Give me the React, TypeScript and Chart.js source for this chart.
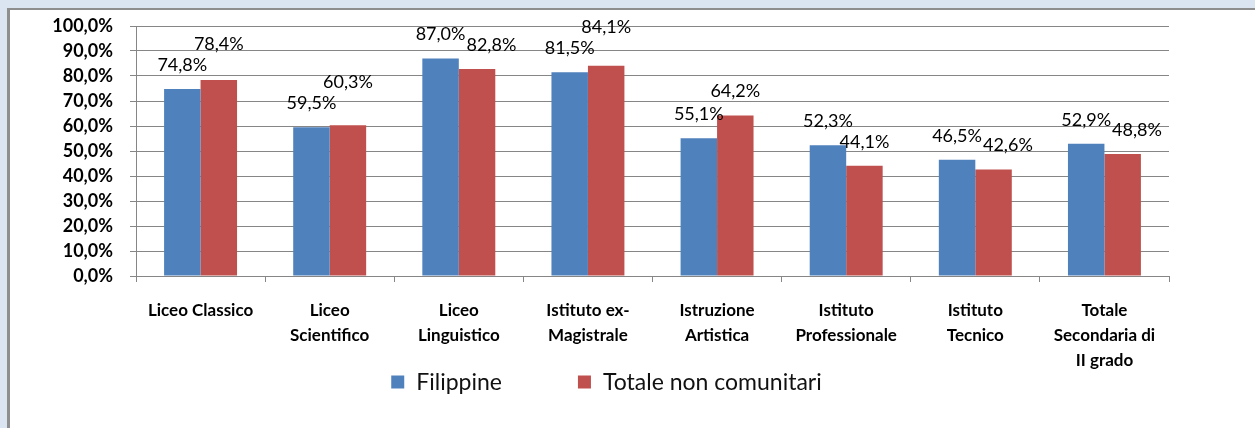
import React, { useEffect, useRef } from "react";
import { Chart, registerables } from "chart.js";

Chart.register(...registerables);

const categories: string[][] = [
  ["Liceo Classico"],
  ["Liceo", "Scientifico"],
  ["Liceo", "Linguistico"],
  ["Istituto ex-", "Magistrale"],
  ["Istruzione", "Artistica"],
  ["Istituto", "Professionale"],
  ["Istituto", "Tecnico"],
  ["Totale", "Secondaria di", "II grado"],
];
const seriesNames = ["Filippine", "Totale non comunitari"];
const filippine = [74.8, 59.5, 87.0, 81.5, 55.1, 52.3, 46.5, 52.9];
const totaleNonComunitari = [78.4, 60.3, 82.8, 84.1, 64.2, 44.1, 42.6, 48.8];
const seriesColors = ["#4f81bd", "#c0504d"];
const yMin = 0;
const yMax = 100;
const yStep = 10;

const FONT = "Lato, 'Open Sans', sans-serif";
const fmt = (v: number) => v.toFixed(1).replace(".", ",") + "%";

const dataLabelsPlugin = {
  id: "dataLabelsCustom",
  afterDatasetsDraw(chart: any) {
    const ctx = chart.ctx;
    ctx.save();
    ctx.font = `18px ${FONT}`;
    ctx.fillStyle = "#000";
    ctx.textAlign = "center";
    ctx.textBaseline = "middle";
    const m0 = chart.getDatasetMeta(0);
    const m1 = chart.getDatasetMeta(1);
    const d0 = chart.data.datasets[0].data as number[];
    const d1 = chart.data.datasets[1].data as number[];
    for (let i = 0; i < d0.length; i++) {
      const b0 = m0.data[i];
      const b1 = m1.data[i];
      const t0 = fmt(d0[i]);
      const t1 = fmt(d1[i]);
      const w0 = ctx.measureText(t0).width;
      const w1 = ctx.measureText(t1).width;
      let x0 = b0.x, y0 = b0.y - 24;
      let x1 = b1.x, y1 = b1.y - 24;
      const hOverlap = x0 + w0 / 2 > x1 - w1 / 2;
      if (hOverlap && Math.abs(y0 - y1) < 18) {
        if (d1[i] > d0[i]) {
          y1 = y0 - 21;
        } else {
          x1 = x0 + w0 / 2 + w1 / 2 + 1;
        }
      }
      ctx.fillText(t0, x0, y0);
      ctx.fillText(t1, x1, y1);
    }
    ctx.restore();
  },
};

const legendPlugin = {
  id: "legendCustom",
  afterDraw(chart: any) {
    const ctx = chart.ctx;
    const area = chart.chartArea;
    ctx.save();
    ctx.font = `23px ${FONT}`;
    ctx.textBaseline = "middle";
    ctx.textAlign = "left";
    const box = 13;
    const gapText = 12;
    const gapItem = 76;
    const items = chart.data.datasets.map((ds: any) => ({
      label: ds.label as string,
      color: ds.backgroundColor as string,
      w: ctx.measureText(ds.label).width,
    }));
    let total = 0;
    items.forEach((it: any, i: number) => {
      total += box + gapText + it.w + (i < items.length - 1 ? gapItem : 0);
    });
    const cx = (area.left + area.right) / 2 - 46;
    const cy = area.bottom + 106;
    let x = cx - total / 2;
    items.forEach((it: any) => {
      ctx.fillStyle = it.color;
      ctx.fillRect(x, cy - box / 2, box, box);
      ctx.fillStyle = "#111";
      ctx.fillText(it.label, x + box + gapText, cy + 1);
      x += box + gapText + it.w + gapItem;
    });
    ctx.restore();
  },
};

export default function App() {
  const ref = useRef<HTMLCanvasElement | null>(null);
  useEffect(() => {
    document.body.style.margin = "0";
    if (!ref.current) return;
    const chart = new Chart(ref.current, {
      type: "bar",
      data: {
        labels: categories,
        datasets: [
          {
            label: seriesNames[0],
            data: filippine,
            backgroundColor: seriesColors[0],
            barPercentage: 1,
            categoryPercentage: 0.565,
          },
          {
            label: seriesNames[1],
            data: totaleNonComunitari,
            backgroundColor: seriesColors[1],
            barPercentage: 1,
            categoryPercentage: 0.565,
          },
        ],
      },
      options: {
        responsive: false,
        animation: false,
        devicePixelRatio: 1,
        layout: { padding: { left: 30, right: 86, top: 16, bottom: 52 } },
        plugins: {
          legend: { display: false },
          tooltip: { enabled: false },
        },
        scales: {
          x: {
            grid: {
              display: true,
              drawOnChartArea: false,
              drawTicks: true,
              tickLength: 6,
              color: "#868686",
            },
            border: { color: "#868686" },
            ticks: {
              color: "#000",
              padding: 16,
              maxRotation: 0,
              autoSkip: false,
              font: { family: FONT, size: 17, weight: "bold", lineHeight: "25px" },
            },
            afterFit: (s: any) => {
              s.height = 100;
            },
          },
          y: {
            min: yMin,
            max: yMax,
            grid: { color: "#868686", tickLength: 6 },
            border: { color: "#868686" },
            ticks: {
              stepSize: yStep,
              color: "#000",
              padding: 17,
              font: { family: FONT, size: 18, weight: "bold", lineHeight: "20px" },
              callback: (v: any) => fmt(Number(v)),
            },
            afterFit: (s: any) => {
              s.width = 96;
              s.paddingTop = 0;
              s.paddingBottom = 0;
            },
          },
        },
      },
      plugins: [dataLabelsPlugin, legendPlugin],
    });
    return () => chart.destroy();
  }, []);

  return (
    <div
      style={{
        position: "fixed",
        left: 0,
        top: 0,
        width: 1255,
        height: 428,
        background: "#dbe5f1",
        overflow: "hidden",
      }}
    >
      <div
        style={{
          position: "absolute",
          left: 7,
          top: 8,
          width: 1248,
          height: 420,
          background: "#fff",
          borderLeft: "3px solid #8e8e8e",
          borderTop: "2px solid #8e8e8e",
        }}
      >
        <canvas
          ref={ref}
          width={1245}
          height={418}
          style={{ display: "block", width: 1245, height: 418 }}
        />
      </div>
    </div>
  );
}
